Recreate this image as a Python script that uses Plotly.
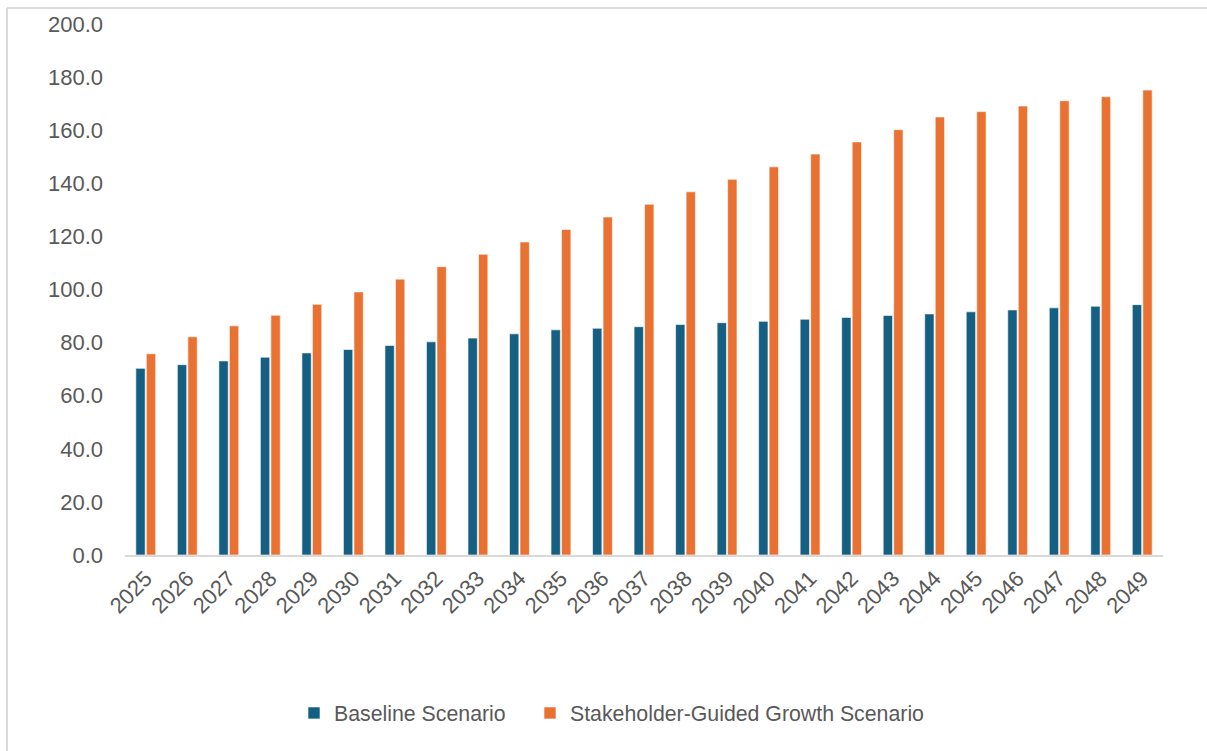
import plotly.graph_objects as go

# Projection years and the two scenario series
years = [str(y) for y in range(2025, 2050)]
baseline = [70.3, 71.7, 73.1, 74.5, 76.1, 77.4, 78.9, 80.3, 81.7, 83.3,
            84.8, 85.4, 86.0, 86.8, 87.5, 88.0, 88.8, 89.5, 90.2, 90.8,
            91.6, 92.3, 93.1, 93.7, 94.3]
stakeholder = [75.8, 82.2, 86.3, 90.3, 94.4, 99.1, 103.9, 108.6, 113.3, 117.9,
               122.6, 127.3, 132.1, 136.8, 141.5, 146.2, 151.0, 155.6, 160.2, 165.0,
               167.0, 169.1, 171.1, 172.6, 175.1]
series_names = ["Baseline Scenario", "Stakeholder-Guided Growth Scenario"]
y_ticks = [0, 20, 40, 60, 80, 100, 120, 140, 160, 180, 200]

BLUE = "#156082"
ORANGE = "#E97132"
TEXT = "#595959"
LINE = "#D9D9D9"

fig = go.Figure()
fig.add_trace(go.Bar(x=years, y=baseline, name=series_names[0], legend="legend",
                     marker=dict(color=BLUE, line=dict(color="#ffffff", width=0.6))))
fig.add_trace(go.Bar(x=years, y=stakeholder, name=series_names[1], legend="legend2",
                     marker=dict(color=ORANGE, line=dict(color="#ffffff", width=0.6))))

W, H = 1207, 751
ml, mr, mt, mb = 125, 44, 21, 196
pw, ph = W - ml - mr, H - mt - mb

def px_x(x):
    return (x - ml) / pw

def px_y(y):
    return (H - mb - y) / ph

legend_style = dict(orientation="h", xanchor="left", yanchor="middle",
                    y=px_y(714), font=dict(size=21.3, color=TEXT),
                    itemwidth=30, bgcolor="rgba(0,0,0,0)")

fig.update_layout(
    width=W, height=H,
    margin=dict(l=ml, r=mr, t=mt, b=mb, pad=0),
    paper_bgcolor="white", plot_bgcolor="white",
    barmode="group", bargap=0.494, bargroupgap=0.11,
    font=dict(family="Liberation Sans, Arial, sans-serif", color=TEXT, size=21),
    showlegend=True,
    legend=dict(x=px_x(294), **legend_style),
    legend2=dict(x=px_x(530), **legend_style),
    xaxis=dict(type="category", tickangle=-45, showline=True,
               linecolor=LINE, linewidth=2, showgrid=False, ticks="",
               tickfont=dict(size=22, color=TEXT), fixedrange=True),
    yaxis=dict(range=[0, 200], tickvals=y_ticks, tickformat=".1f",
               showgrid=False, zeroline=False, showline=False, ticks="",
               ticklabelstandoff=21, tickfont=dict(size=22, color=TEXT),
               fixedrange=True),
    shapes=[
        # chart frame on the left and top edges
        dict(type="line", xref="paper", yref="paper",
             x0=px_x(7), x1=px_x(7), y0=px_y(H + 5), y1=px_y(5),
             line=dict(color=LINE, width=2)),
        dict(type="line", xref="paper", yref="paper",
             x0=px_x(7), x1=px_x(W + 5), y0=px_y(5), y1=px_y(5),
             line=dict(color=LINE, width=2)),
    ],
)

fig.write_html("out.html", config={"displayModeBar": False})
